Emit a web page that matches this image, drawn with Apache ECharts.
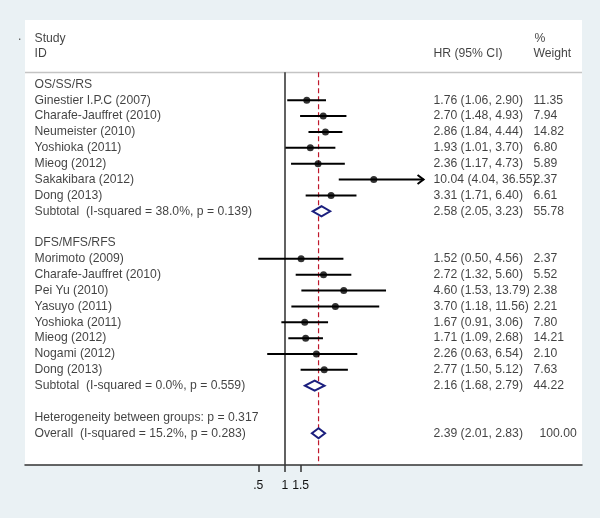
<!DOCTYPE html>
<html><head><meta charset="utf-8">
<script src="https://cdn.jsdelivr.net/npm/echarts@6/dist/echarts.min.js"></script>
<style>html,body{margin:0;padding:0;background:#eaf1f4}#c{width:600px;height:518px}</style>
</head><body><div id="c"></div><script>
// ---- data ----
const groupLabels = ['OS/SS/RS', 'DFS/MFS/RFS'];

const osStudies = ['Ginestier I.P.C (2007)', 'Charafe-Jauffret (2010)', 'Neumeister (2010)', 'Yoshioka (2011)', 'Mieog (2012)', 'Sakakibara (2012)', 'Dong (2013)'];
const osHR     = [1.76, 2.70, 2.86, 1.93, 2.36, 10.04, 3.31];
const osLow    = [1.06, 1.48, 1.84, 1.01, 1.17, 4.04, 1.71];
const osHigh   = [2.90, 4.93, 4.44, 3.70, 4.73, 36.55, 6.40];
const osWeight = [11.35, 7.94, 14.82, 6.80, 5.89, 2.37, 6.61];

const dfsStudies = ['Morimoto (2009)', 'Charafe-Jauffret (2010)', 'Pei Yu (2010)', 'Yasuyo (2011)', 'Yoshioka (2011)', 'Mieog (2012)', 'Nogami (2012)', 'Dong (2013)'];
const dfsHR     = [1.52, 2.72, 4.60, 3.70, 1.67, 1.71, 2.26, 2.77];
const dfsLow    = [0.50, 1.32, 1.53, 1.18, 0.91, 1.09, 0.63, 1.50];
const dfsHigh   = [4.56, 5.60, 13.79, 11.56, 3.06, 2.68, 6.54, 5.12];
const dfsWeight = [2.37, 5.52, 2.38, 2.21, 7.80, 14.21, 2.10, 7.63];

const pooledLabels = ['Subtotal  (I-squared = 38.0%, p = 0.139)', 'Subtotal  (I-squared = 0.0%, p = 0.559)', 'Overall  (I-squared = 15.2%, p = 0.283)'];
const pooledHR     = [2.58, 2.16, 2.39];
const pooledLow    = [2.05, 1.68, 2.01];
const pooledHigh   = [3.23, 2.79, 2.83];
const pooledWeight = [55.78, 44.22, 100.00];

const heterogeneityNote = 'Heterogeneity between groups: p = 0.317';
const headerStudy = ['Study', 'ID'];
const headerEstimate = 'HR (95% CI)';
const headerWeight = ['%', 'Weight'];

const xTicks = [0.5, 1, 1.5];
const xTickLabels = ['.5', '1', '1.5'];
const nullValue = 1;
const arrowAbove = 30; // CIs beyond this are drawn with an arrow

// ---- layout / style ----
const FONT = '"Liberation Sans", Arial, sans-serif';
const FS = 12.2;
const TXT = '#111';
const COL_NAME = 34, COL_EST = 433, COL_W = 533;
const HEADER_LINE_K = -0.77;
const Y_MAX = 24;

// ---- build rows ----
const fmt = v => v.toFixed(2);
const textData = [], ciData = [], pointData = [], diamondData = [];
function addPooled(i, k) {
  textData.push([COL_NAME, k, pooledLabels[i]]);
  textData.push([COL_EST, k, `${fmt(pooledHR[i])} (${fmt(pooledLow[i])}, ${fmt(pooledHigh[i])})`]);
  textData.push([COL_W + (pooledWeight[i] >= 100 ? 6 : 0), k, fmt(pooledWeight[i])]);
  diamondData.push([Math.log(pooledLow[i]), Math.log(pooledHigh[i]), Math.log(pooledHR[i]), k]);
}
function addGroup(g, names, hr, lo, hi, w, k) {
  textData.push([COL_NAME, k, groupLabels[g]]);
  names.forEach((n, i) => {
    const r = k + 1 + i;
    textData.push([COL_NAME, r, n]);
    textData.push([COL_EST, r, `${fmt(hr[i])} (${fmt(lo[i])}, ${fmt(hi[i])})`]);
    textData.push([COL_W, r, fmt(w[i])]);
    ciData.push([Math.log(lo[i]), Math.log(hi[i]), Math.log(hr[i]), r, hi[i] > arrowAbove ? 1 : 0]);
    pointData.push([Math.log(hr[i]), r]);
  });
  addPooled(g, k + names.length + 1);
  return k + names.length + 3;
}
let k = 0;
k = addGroup(0, osStudies, osHR, osLow, osHigh, osWeight, k);
k = addGroup(1, dfsStudies, dfsHR, dfsLow, dfsHigh, dfsWeight, k);
textData.push([COL_NAME, k, heterogeneityNote]);
addPooled(2, k + 1);
// headers
textData.push([COL_NAME, -2.91, headerStudy[0]]);
textData.push([COL_NAME, -1.93, headerStudy[1]]);
textData.push([COL_EST, -1.93, headerEstimate]);
textData.push([COL_W + 1, -2.91, headerWeight[0]]);
textData.push([COL_W, -1.93, headerWeight[1]]);

const tickLn = xTicks.map(v => Math.log(v));
const lnOverall = Math.log(pooledHR[2]);

const chart = echarts.init(document.getElementById('c'));
chart.setOption({
  backgroundColor: '#eaf1f4',
  animation: false,
  textStyle: { fontFamily: FONT },
  grid: { left: 25, right: 18, top: 20, bottom: 53, show: true, backgroundColor: '#ffffff', borderWidth: 0 },
  xAxis: [
    {
      type: 'value', min: -6.753, max: 7.714,
      axisLine: { show: true, onZero: false, lineStyle: { color: '#333', width: 1.5 } },
      splitLine: { show: false },
      axisTick: { show: true, customValues: tickLn, length: 7, lineStyle: { color: '#333', width: 1.5 } },
      axisLabel: {
        show: true, customValues: tickLn, margin: 15, color: TXT, fontSize: FS, fontFamily: FONT,
        formatter: v => { const i = tickLn.findIndex(t => Math.abs(t - v) < 1e-6); return i >= 0 ? xTickLabels[i] : ''; }
      }
    },
    { type: 'value', min: 25, max: 582, show: false }
  ],
  yAxis: { type: 'value', inverse: true, min: -4.06, max: Y_MAX, show: false },
  graphic: [
    { type: 'text', left: 18, top: 31, style: { text: '.', font: FS + 'px ' + FONT, fill: '#555' } },
    { type: 'line', shape: { x1: 25, y1: 72.5, x2: 582, y2: 72.5 }, style: { stroke: '#c4c4c4', lineWidth: 1.5 } }
  ],
  series: [
    {
      type: 'custom', name: 'ref', silent: true, z: 2, clip: false,
      data: [[Math.log(nullValue), HEADER_LINE_K, Y_MAX, 0], [lnOverall, HEADER_LINE_K, Y_MAX, 1]],
      encode: { x: 0, y: [1, 2] },
      renderItem: (params, api) => {
        const a = api.coord([api.value(0), api.value(1)]);
        const b = api.coord([api.value(0), api.value(2)]);
        const dashed = api.value(3) === 1;
        return {
          type: 'line', shape: { x1: a[0], y1: a[1], x2: b[0], y2: b[1] },
          style: dashed ? { stroke: '#c0182c', lineWidth: 1.2, lineDash: [5, 3] } : { stroke: '#3a3a3a', lineWidth: 1.6 }
        };
      }
    },
    {
      type: 'custom', name: 'ci', silent: true, z: 3, clip: false,
      data: ciData, encode: { x: [0, 1], y: 3 },
      renderItem: (params, api) => {
        const a = api.coord([api.value(0), api.value(3)]);
        const b = api.coord([api.value(1), api.value(3)]);
        const children = [{ type: 'line', shape: { x1: a[0], y1: a[1], x2: b[0], y2: b[1] }, style: { stroke: '#000', lineWidth: 2 } }];
        if (api.value(4)) {
          children.push({ type: 'polyline', shape: { points: [[b[0] - 6, b[1] - 4.5], [b[0], b[1]], [b[0] - 6, b[1] + 4.5]] }, style: { stroke: '#000', lineWidth: 2, fill: null } });
        }
        return { type: 'group', children };
      }
    },
    {
      type: 'scatter', name: 'hr', silent: true, z: 4,
      data: pointData, symbol: 'circle', symbolSize: 7, itemStyle: { color: '#000' }
    },
    {
      type: 'custom', name: 'pooled', silent: true, z: 5, clip: false,
      data: diamondData, encode: { x: [0, 1], y: 3 },
      renderItem: (params, api) => {
        const l = api.coord([api.value(0), api.value(3)]);
        const h = api.coord([api.value(1), api.value(3)]);
        const c = api.coord([api.value(2), api.value(3)]);
        return {
          type: 'polygon',
          shape: { points: [[l[0], l[1]], [c[0], c[1] - 5], [h[0], h[1]], [c[0], c[1] + 5]] },
          style: { stroke: '#1b1f7e', lineWidth: 2, fill: '#ffffff' }
        };
      }
    },
    {
      type: 'scatter', name: 'text', silent: true, z: 6, xAxisIndex: 1,
      data: textData, symbolSize: 1, itemStyle: { color: 'transparent' },
      label: {
        show: true, position: 'right', distance: 0, formatter: p => p.value[2],
        color: TXT, fontSize: FS, fontFamily: FONT, align: 'left', verticalAlign: 'middle'
      }
    }
  ]
});
</script></body></html>
